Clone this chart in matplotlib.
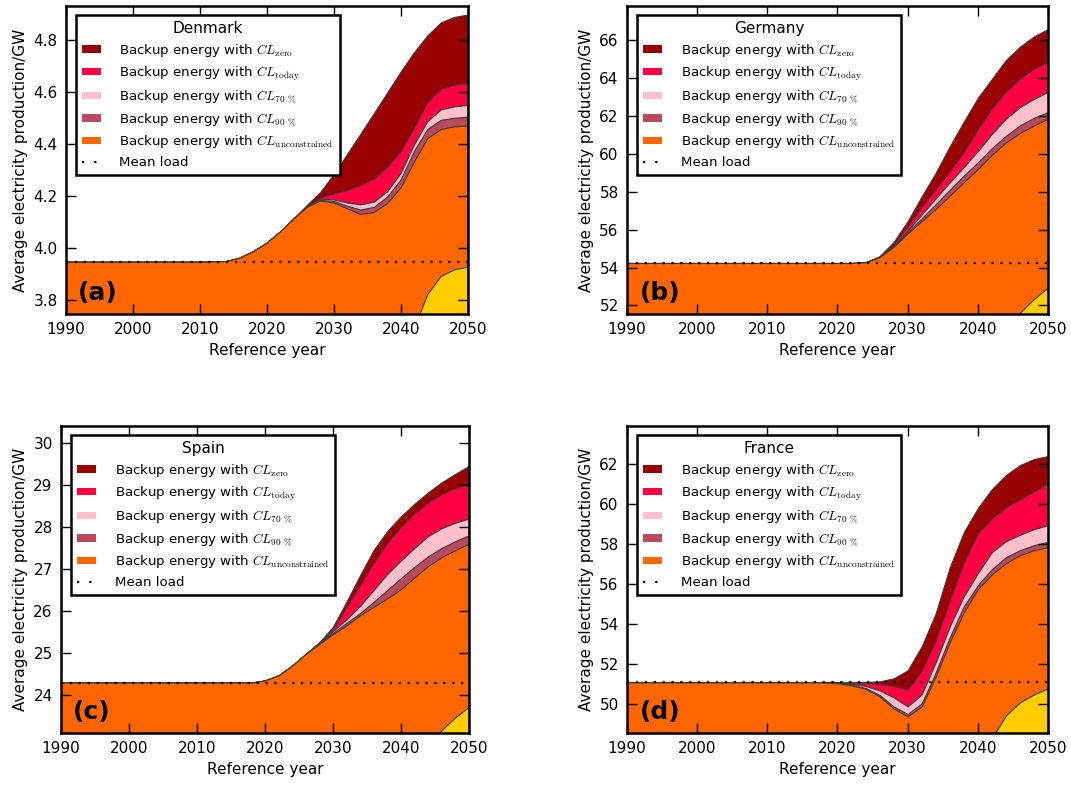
import numpy as np
import matplotlib
matplotlib.use("Agg")
import matplotlib.pyplot as plt
from matplotlib.patches import Patch
from matplotlib.lines import Line2D
from matplotlib.ticker import FormatStrFormatter

plt.rcParams['font.family'] = ['DejaVu Sans']
plt.rcParams['mathtext.fontset'] = 'cm'

years = [1990, 2000, 2010, 2012, 2014, 2016, 2018, 2020, 2022, 2024, 2026,
         2028, 2030, 2032, 2034, 2036, 2038, 2040, 2042, 2044, 2046, 2048, 2050]

# Denmark
dk_load = 3.944
dk_unc = [3.944, 3.944, 3.944, 3.945, 3.947, 3.960, 3.985, 4.017, 4.060, 4.110, 4.155,
          4.180, 4.172, 4.150, 4.128, 4.135, 4.170, 4.230, 4.330, 4.420, 4.455, 4.465, 4.468]
dk_90 = [3.944, 3.944, 3.944, 3.945, 3.947, 3.960, 3.985, 4.017, 4.060, 4.110, 4.156,
         4.182, 4.178, 4.160, 4.145, 4.155, 4.195, 4.260, 4.370, 4.455, 4.490, 4.498, 4.502]
dk_70 = [3.944, 3.944, 3.944, 3.945, 3.947, 3.960, 3.985, 4.017, 4.060, 4.110, 4.157,
         4.186, 4.184, 4.172, 4.165, 4.175, 4.215, 4.285, 4.395, 4.485, 4.530, 4.542, 4.547]
dk_today = [3.944, 3.944, 3.944, 3.945, 3.947, 3.960, 3.985, 4.017, 4.060, 4.110, 4.158,
            4.192, 4.207, 4.220, 4.240, 4.265, 4.310, 4.370, 4.460, 4.560, 4.610, 4.625, 4.632]
dk_zero = [3.944, 3.944, 3.944, 3.945, 3.947, 3.960, 3.985, 4.017, 4.060, 4.110, 4.162,
           4.212, 4.280, 4.358, 4.436, 4.515, 4.595, 4.675, 4.750, 4.815, 4.865, 4.886, 4.895]
dk_res_years = [2042, 2044, 2046, 2048, 2050]
dk_res = [3.69, 3.82, 3.89, 3.915, 3.925]

# Germany
de_load = 54.24
de_unc = [54.24, 54.24, 54.24, 54.24, 54.24, 54.24, 54.24, 54.24, 54.24, 54.28, 54.55,
          55.10, 55.80, 56.45, 57.10, 57.80, 58.50, 59.20, 59.95, 60.60, 61.10, 61.50, 61.86]
de_90 = [54.24, 54.24, 54.24, 54.24, 54.24, 54.24, 54.24, 54.24, 54.24, 54.28, 54.55,
         55.12, 55.88, 56.60, 57.35, 58.10, 58.85, 59.55, 60.30, 60.95, 61.50, 61.90, 62.21]
de_70 = [54.24, 54.24, 54.24, 54.24, 54.24, 54.24, 54.24, 54.24, 54.24, 54.28, 54.56,
         55.15, 55.95, 56.80, 57.65, 58.50, 59.30, 60.15, 61.05, 61.85, 62.47, 62.90, 63.27]
de_today = [54.24, 54.24, 54.24, 54.24, 54.24, 54.24, 54.24, 54.24, 54.24, 54.28, 54.58,
            55.20, 56.20, 57.20, 58.15, 59.10, 60.10, 61.30, 62.40, 63.30, 63.97, 64.50, 64.85]
de_zero = [54.24, 54.24, 54.24, 54.24, 54.24, 54.24, 54.24, 54.24, 54.24, 54.28, 54.60,
           55.35, 56.45, 57.75, 59.00, 60.40, 61.70, 62.95, 63.95, 64.95, 65.65, 66.20, 66.58]
de_res_years = [2044, 2046, 2048, 2050]
de_res = [51.0, 51.62, 52.35, 52.95]

# Spain
es_load = 24.30
es_unc = [24.30, 24.30, 24.30, 24.30, 24.30, 24.30, 24.30, 24.35, 24.47, 24.70, 24.98,
          25.22, 25.45, 25.66, 25.90, 26.10, 26.30, 26.52, 26.80, 27.07, 27.28, 27.45, 27.60]
es_90 = [24.30, 24.30, 24.30, 24.30, 24.30, 24.30, 24.30, 24.35, 24.47, 24.70, 24.98,
         25.23, 25.48, 25.72, 25.95, 26.22, 26.50, 26.78, 27.05, 27.30, 27.50, 27.66, 27.80]
es_70 = [24.30, 24.30, 24.30, 24.30, 24.30, 24.30, 24.30, 24.35, 24.47, 24.70, 24.98,
         25.24, 25.52, 25.80, 26.12, 26.50, 26.88, 27.20, 27.50, 27.78, 27.97, 28.10, 28.20]
es_today = [24.30, 24.30, 24.30, 24.30, 24.30, 24.30, 24.30, 24.35, 24.47, 24.70, 24.98,
            25.25, 25.58, 26.10, 26.62, 27.15, 27.62, 28.00, 28.32, 28.58, 28.78, 28.93, 29.04]
es_zero = [24.30, 24.30, 24.30, 24.30, 24.30, 24.30, 24.30, 24.35, 24.47, 24.70, 24.98,
           25.26, 25.62, 26.22, 26.85, 27.45, 27.90, 28.25, 28.55, 28.82, 29.06, 29.26, 29.45]
es_res_years = [2044, 2046, 2048, 2050]
es_res = [22.8, 23.17, 23.47, 23.72]

# France
fr_load = 51.10
fr_unc = [51.10, 51.10, 51.10, 51.10, 51.10, 51.10, 51.10, 51.06, 50.95, 50.78, 50.40,
          49.80, 49.40, 49.90, 51.40, 53.10, 54.60, 55.75, 56.50, 57.05, 57.45, 57.70, 57.85]
fr_90 = [51.10, 51.10, 51.10, 51.10, 51.10, 51.10, 51.10, 51.07, 50.98, 50.82, 50.47,
         49.90, 49.52, 50.05, 51.60, 53.35, 54.90, 55.95, 56.75, 57.35, 57.70, 57.95, 58.12]
fr_70 = [51.10, 51.10, 51.10, 51.10, 51.10, 51.10, 51.10, 51.09, 51.03, 50.92, 50.70,
         50.35, 49.90, 50.50, 52.10, 53.90, 55.40, 56.55, 57.60, 58.15, 58.47, 58.75, 58.95]
fr_today = [51.10, 51.10, 51.10, 51.10, 51.10, 51.10, 51.10, 51.10, 51.10, 51.08, 51.03,
            50.92, 50.75, 51.70, 53.20, 55.20, 57.10, 58.55, 59.30, 59.85, 60.25, 60.65, 61.05]
fr_zero = [51.10, 51.10, 51.10, 51.10, 51.10, 51.10, 51.10, 51.10, 51.10, 51.12, 51.15,
           51.30, 51.70, 52.90, 54.55, 56.85, 58.60, 59.80, 60.75, 61.45, 61.95, 62.25, 62.40]
fr_res_years = [2042, 2044, 2046, 2048, 2050]
fr_res = [48.3, 49.45, 50.1, 50.5, 50.8]

labels = [r'Backup energy with $CL_{\mathrm{zero}}$',
          r'Backup energy with $CL_{\mathrm{today}}$',
          r'Backup energy with $CL_{70\ \%}$',
          r'Backup energy with $CL_{90\ \%}$',
          r'Backup energy with $CL_{\mathrm{unconstrained}}$',
          'Mean load']
colors = ['#990000', '#ff0040', '#ffc0cb', '#b84a5c', '#ff6600']

panels = [
    ('Denmark', '(a)', dk_load, [dk_zero, dk_today, dk_70, dk_90, dk_unc],
     dk_res_years, dk_res, (3.745, 4.93), [3.8, 4.0, 4.2, 4.4, 4.6, 4.8], '%.1f'),
    ('Germany', '(b)', de_load, [de_zero, de_today, de_70, de_90, de_unc],
     de_res_years, de_res, (51.55, 67.8), list(range(52, 67, 2)), '%d'),
    ('Spain', '(c)', es_load, [es_zero, es_today, es_70, es_90, es_unc],
     es_res_years, es_res, (23.1, 30.4), list(range(24, 31)), '%d'),
    ('France', '(d)', fr_load, [fr_zero, fr_today, fr_70, fr_90, fr_unc],
     fr_res_years, fr_res, (48.57, 63.9), list(range(50, 63, 2)), '%d'),
]

# axes rectangles in figure fractions
rects = [[0.0616, 0.600, 0.3754, 0.3924],
         [0.5854, 0.600, 0.3931, 0.3924],
         [0.0570, 0.0662, 0.3806, 0.3911],
         [0.5854, 0.0662, 0.3931, 0.3911]]

fig = plt.figure(figsize=(10.71, 7.85), dpi=100)

for rect, (name, tag, load, curves, ryears, res, ylim, yticks, fmt) in zip(rects, panels):
    ax = fig.add_axes(rect)
    # stacked backup levels, largest first so each band stays visible
    for curve, col in zip(curves, colors):
        ax.fill_between(years, ylim[0] - 10, curve, facecolor=col,
                        edgecolor='#3a3a3a', linewidth=0.8)
    ax.fill_between(ryears, ylim[0] - 10, res, facecolor='#ffcc00',
                    edgecolor='#3a3a3a', linewidth=0.8)
    ax.plot([1990, 2050], [load, load], color='black', linewidth=1.6,
            linestyle=(0, (1, 3)))

    ax.set_xlim(1990, 2050)
    ax.set_ylim(*ylim)
    ax.set_xticks(range(1990, 2051, 10))
    ax.set_yticks(yticks)
    ax.yaxis.set_major_formatter(FormatStrFormatter(fmt))
    ax.tick_params(direction='in', top=True, right=True, length=7, width=1,
                   labelsize=11, pad=6)
    for sp in ax.spines.values():
        sp.set_linewidth(1.8)
    ax.set_xlabel('Reference year', fontsize=11)
    ax.set_ylabel('Average electricity production/GW', fontsize=11)

    handles = [Patch(facecolor=c, edgecolor=c, linewidth=0) for c in colors]
    handles.append(Line2D([], [], color='black', linewidth=1.6, linestyle=(0, (1, 4.5))))
    leg = ax.legend(handles, labels, loc='upper left',
                    bbox_to_anchor=(0.025, 0.97), borderaxespad=0, title=name,
                    fontsize=9.6, title_fontsize=11, fancybox=False, framealpha=1,
                    handlelength=1.4, handleheight=0.5, handletextpad=1.4,
                    labelspacing=0.42, borderpad=0.45)
    leg.get_frame().set_edgecolor('black')
    leg.get_frame().set_linewidth(1.8)

    ax.text(0.03, 0.03, tag, transform=ax.transAxes, fontsize=18,
            fontweight='bold', va='bottom', ha='left')

fig.savefig('out.png', dpi=100)
